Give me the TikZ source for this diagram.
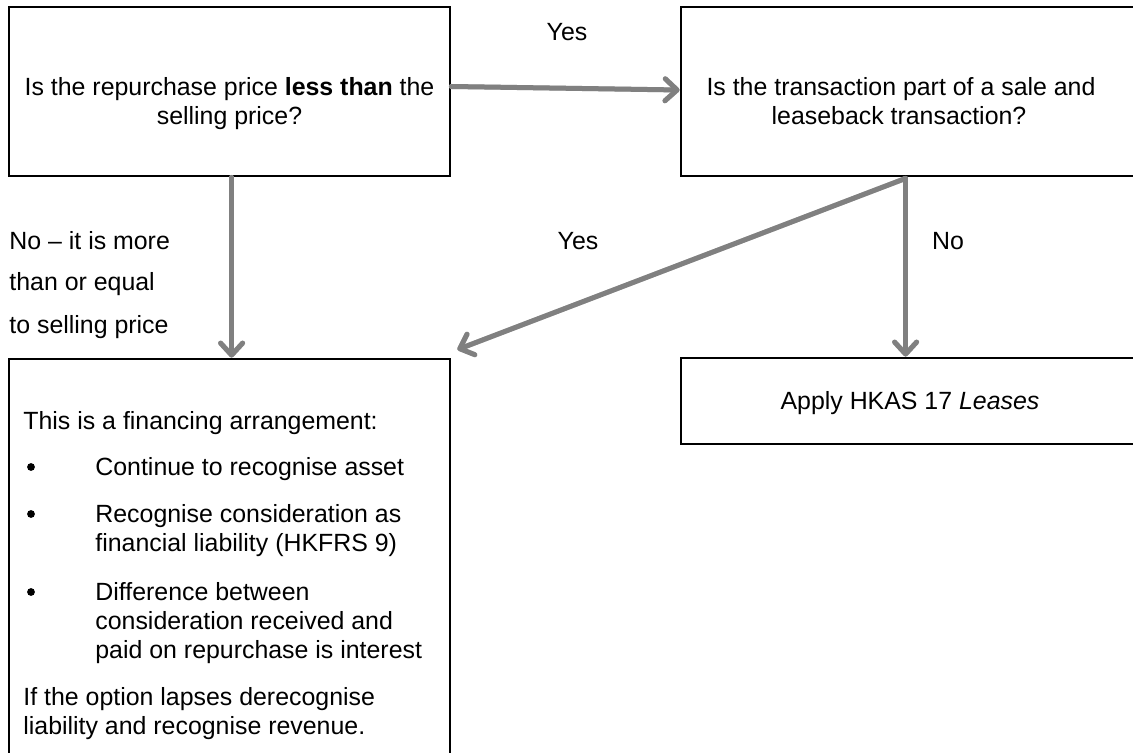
\documentclass[tikz,border=0pt]{standalone}
\usepackage{fontspec}
\setmainfont{Liberation Sans}
\usetikzlibrary{arrows.meta,calc}

\tikzset{
  box/.style={draw=black, line width=1.4pt, inner sep=0pt, minimum width=#1},
  txt/.style={inner sep=0pt, font=\fontsize{12.45pt}{14.25pt}\selectfont},
  flow/.style={draw=black!50, line width=2.5pt, line cap=round,
    -{Straight Barb[length=6pt,width=11pt,line cap=round,line join=round]}},
  flowshadow/.style={draw=black!22, line width=2.5pt, line cap=round,
    -{Straight Barb[length=6pt,width=11pt,line cap=round,line join=round]}},
}

\begin{document}
\begin{tikzpicture}[x=0.5pt,y=-0.5pt]
\useasboundingbox (0,0) rectangle (1133,753);

% boxes (the right-hand and lower boxes run past the page edge)
\node[box=220.5pt, minimum height=84.5pt] (A) at (229.5,91.5) {};
\node[box=229.5pt, minimum height=84.5pt] (B) at (910.5,91.5) {};
\node[box=229.5pt, minimum height=43pt]   (C) at (910.5,401) {};
\node[box=220.5pt, minimum height=210pt]  (D) at (229.5,569) {};

% box texts
\node[txt, anchor=base] (a1) at (229.5,96) {Is the repurchase price \textbf{less than} the};
\node[txt, anchor=base] (a2) at (229.5,125) {selling price?};
\node[txt, anchor=base] (b1) at (901,96) {Is the transaction part of a sale and};
\node[txt, anchor=base] (b2) at (899,125) {leaseback transaction?};
\node[txt, anchor=base] (c1) at (910,409) {Apply HKAS 17 \textit{Leases}};

\node[txt, anchor=base west] (d1) at (23,429) {This is a financing arrangement:};
\node[txt, anchor=base west] (d2) at (95,475) {Continue to recognise asset};
\node[txt, anchor=base west] (d3) at (95,522) {Recognise consideration as};
\node[txt, anchor=base west] (d4) at (95,551) {financial liability (HKFRS 9)};
\node[txt, anchor=base west] (d5) at (95,600) {Difference between};
\node[txt, anchor=base west] (d6) at (95,629) {consideration received and};
\node[txt, anchor=base west] (d7) at (95,658) {paid on repurchase is interest};
\node[txt, anchor=base west] (d8) at (23,705) {If the option lapses derecognise};
\node[txt, anchor=base west] (d9) at (23,734) {liability and recognise revenue.};
\foreach \y/\n in {467/1,514/2,592/3}
  \fill (31,\y) circle (3.9) node[coordinate] (bul\n) {};

% connector labels
\node[txt, anchor=base] (lyes1) at (567,41) {Yes};
\node[txt, anchor=base west] (lno1) at (9,250) {No -- it is more};
\node[txt, anchor=base west] (lno2) at (9,291) {than or equal};
\node[txt, anchor=base west] (lno3) at (9,333) {to selling price};
\node[txt, anchor=base] (lyes2) at (578,250) {Yes};
\node[txt, anchor=base] (lno4) at (948,250) {No};

% connector end points on the box borders
\coordinate (aout) at ($(A.east)+(0,-5)$);
\coordinate (bin)  at ($(B.west)+(0,-1.5)$);
\coordinate (adown) at ($(A.south west)+(224,0)$);
\coordinate (din)   at ($(D.north west)+(224,0)$);
\coordinate (bdown) at ($(B.south west)+(226,1)$);
\coordinate (cin)   at ($(C.north west)+(226,0)$);
\coordinate (dtip)  at ($(D.north east)+(6,-8)$);

% connectors: soft shadow first, then the grey arrow
\begin{scope}[shift={(1.5,2.5)}]
  \draw[flowshadow] (aout) -- (bin);
  \draw[flowshadow] (adown) -- (din);
  \draw[flowshadow] (bdown) -- (cin);
  \draw[flowshadow] (bdown) -- (dtip);
\end{scope}
\draw[flow] (aout) -- (bin);
\draw[flow] (adown) -- (din);
\draw[flow] (bdown) -- (cin);
\draw[flow] (bdown) -- (dtip);
\end{tikzpicture}
\end{document}
